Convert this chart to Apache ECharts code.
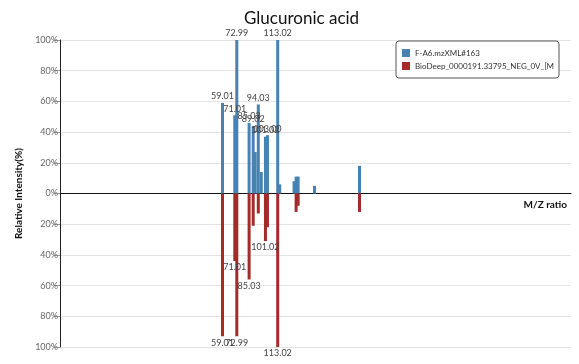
<!DOCTYPE html>
<html>
<head>
<meta charset="utf-8">
<script src="https://cdn.jsdelivr.net/npm/echarts@6/dist/echarts.min.js"></script>
<style>
  html, body { margin: 0; padding: 0; background: #fff; }
  #chart { width: 579px; height: 364px; }
</style>
</head>
<body>
<div id="chart"></div>
<script>
// sample spectrum (top, blue)
const sampleName = 'F-A6.mzXML#163';
const sampleMz = [59.01, 71.01, 72.99, 85.03, 89.02, 91.00, 94.03, 96.96, 101.02, 103.00, 113.02, 115.00, 129.02, 131.03, 133.01, 149.02, 193.03];
const sampleInt = [59, 51, 100, 46, 44, 27, 58, 14, 37, 38, 100, 6, 8, 11, 11, 5, 18];

// reference spectrum (bottom, red)
const refName = 'BioDeep_0000191.33795_NEG_0V_[M-H]-';
const refMz = [59.01, 71.01, 72.99, 85.03, 89.02, 94.03, 101.02, 103.00, 113.02, 131.03, 133.01, 193.03];
const refInt = [93, 44, 93, 56, 21, 13, 31, 22, 100, 12, 8, 12];

const yTicks = [-100, -80, -60, -40, -20, 0, 20, 40, 60, 80, 100];

const myChart = echarts.init(document.getElementById('chart'));

const topData = sampleMz.map((mz, i) => [mz, sampleInt[i]]);
const bottomData = refMz.map((mz, i) => [mz, -refInt[i]]);

// only label the bigger peaks
const peakLabel = function (p) {
  return Math.abs(p.value[1]) >= 30 ? p.value[0].toFixed(2) : '';
};

const fontFamily = 'Lato, "Noto Sans", sans-serif';

myChart.setOption({
  animation: false,
  textStyle: { fontFamily: fontFamily },
  title: {
    text: 'Glucuronic acid',
    left: 239,
    top: 5,
    textStyle: { fontSize: 17, fontWeight: 'normal', color: '#111', fontFamily: fontFamily }
  },
  legend: {
    orient: 'vertical',
    left: 396,
    top: 41,
    padding: [8, 5, 8, 6],
    itemGap: 5,
    itemWidth: 8,
    itemHeight: 8,
    borderColor: '#555',
    borderWidth: 1,
    borderRadius: 3,
    backgroundColor: '#fff',
    icon: 'rect',
    textStyle: {
      fontSize: 8,
      color: '#333',
      width: 144,
      overflow: 'truncate',
      ellipsis: ''
    },
    data: [sampleName, refName]
  },
  grid: {
    left: 60,
    right: 8,
    top: 40,
    bottom: 17,
    containLabel: false
  },
  xAxis: {
    type: 'value',
    min: -100,
    max: 400,
    name: 'M/Z ratio',
    nameLocation: 'end',
    nameGap: -4,
    nameTextStyle: {
      fontSize: 10,
      fontWeight: 'bold',
      color: '#111',
      align: 'right',
      verticalAlign: 'top',
      padding: [6, 0, 0, 0]
    },
    axisLine: { onZero: true, lineStyle: { color: '#111', width: 1 } },
    axisTick: { show: false },
    axisLabel: { show: false },
    splitLine: { show: false }
  },
  yAxis: {
    type: 'value',
    min: yTicks[0],
    max: yTicks[yTicks.length - 1],
    interval: 20,
    name: 'Relative Intensity(%)',
    nameLocation: 'middle',
    nameGap: 31,
    nameTextStyle: { fontSize: 10, fontWeight: 'bold', color: '#111' },
    axisLine: { show: true, onZero: false, lineStyle: { color: '#222' } },
    axisTick: { show: true, length: 6, lineStyle: { color: '#999' } },
    axisLabel: {
      fontSize: 9,
      color: '#666',
      margin: 2,
      formatter: function (v) { return Math.abs(v) + '%'; }
    },
    splitLine: { show: true, lineStyle: { color: '#e4e4e4' } }
  },
  series: [
    {
      name: sampleName,
      type: 'bar',
      barWidth: 3,
      barGap: '-100%',
      itemStyle: { color: '#4682B4' },
      label: {
        show: true,
        position: 'top',
        distance: 2,
        fontSize: 9,
        color: '#444',
        formatter: peakLabel
      },
      data: topData
    },
    {
      name: refName,
      type: 'bar',
      barWidth: 3,
      barGap: '-100%',
      itemStyle: { color: '#A52A2A' },
      label: {
        show: true,
        position: 'bottom',
        distance: 2,
        fontSize: 9,
        color: '#444',
        formatter: peakLabel
      },
      data: bottomData
    }
  ]
});
</script>
</body>
</html>
